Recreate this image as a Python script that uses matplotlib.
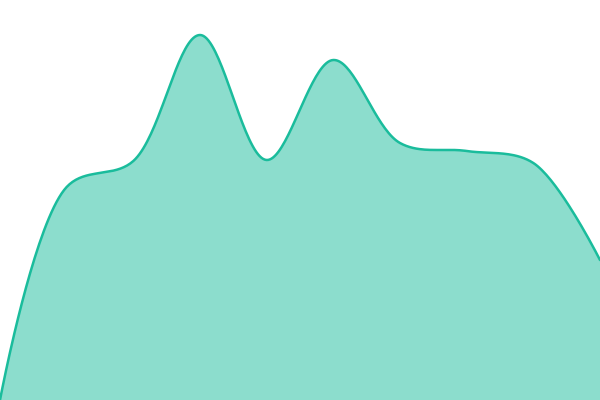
import numpy as np
import matplotlib
matplotlib.use('Agg')
import matplotlib.pyplot as plt

# data points (evenly spaced categories)
idx = [0, 1, 2, 3, 4, 5, 6, 7, 8, 9]
values = [0, 213, 239, 365, 240, 340, 257, 249, 237, 140]

linecol = '#1abc9c'
W, H = 600, 400


def catmull_rom(px, py, alpha=0.5, n=40):
    # centripetal Catmull-Rom like d3.curveCatmullRom, in pixel space
    P = np.column_stack([px, py]).astype(float)
    k = len(P)
    xs, ys = [P[0, 0]], [P[0, 1]]
    for i in range(k - 1):
        p0 = P[i - 1] if i > 0 else None
        p1, p2 = P[i], P[i + 1]
        p3 = P[i + 2] if i + 2 < k else None
        l12 = np.hypot(*(p2 - p1)) ** alpha
        c1 = p1.copy()
        if p0 is not None:
            l01 = np.hypot(*(p1 - p0)) ** alpha
            a = 2 * l01**2 + 3 * l01 * l12 + l12**2
            m = 3 * l01 * (l01 + l12)
            c1 = (p1 * a - p0 * l12**2 + p2 * l01**2) / m
        c2 = p2.copy()
        if p3 is not None:
            l23 = np.hypot(*(p3 - p2)) ** alpha
            b = 2 * l23**2 + 3 * l23 * l12 + l12**2
            m = 3 * l23 * (l23 + l12)
            c2 = (p2 * b + p3 * (-l12**2) + p1 * l23**2) / m
        t = np.linspace(0, 1, n)[1:, None]
        seg = ((1 - t)**3 * p1 + 3 * (1 - t)**2 * t * c1
               + 3 * (1 - t) * t**2 * c2 + t**3 * p2)
        xs.extend(seg[:, 0])
        ys.extend(seg[:, 1])
    return np.array(xs), np.array(ys)


# place points in pixel space, curve is drawn there
px = np.array(idx) * W / (len(idx) - 1)
py = np.array(values, float)
sx, sy = catmull_rom(px, py)

fig = plt.figure(figsize=(6, 4), dpi=100)
ax = fig.add_axes([0, 0, 1, 1])
ax.fill_between(sx, 0, sy, color=linecol, alpha=0.5, linewidth=0)
ax.plot(sx, sy, color=linecol, linewidth=1.8, solid_capstyle='round')
ax.set_xlim(0, W)
ax.set_ylim(0, H)
ax.axis('off')

fig.savefig('out.png', dpi=100)
